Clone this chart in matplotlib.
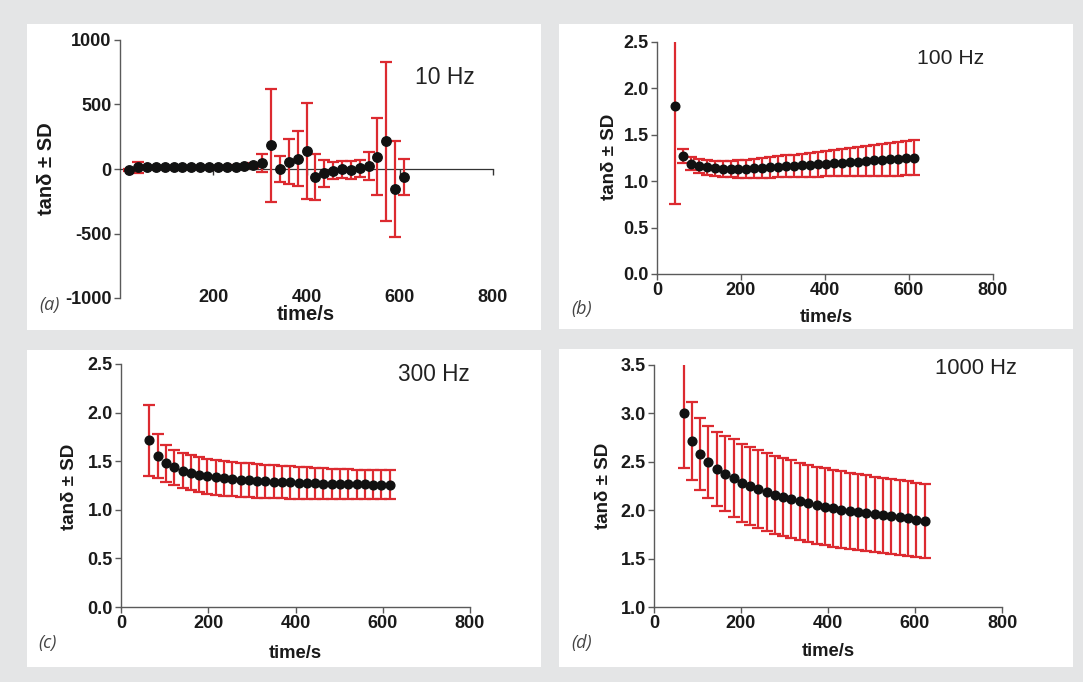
import matplotlib
matplotlib.use("Agg")
import matplotlib.pyplot as plt
from matplotlib.patches import Rectangle

plt.rcParams['font.family'] = ['Liberation Sans', 'DejaVu Sans']
plt.rcParams['axes.unicode_minus'] = False

# tan delta (mean and SD) against time at four frequencies
time_10 = [20, 39, 58, 77, 96, 115, 134, 153, 172, 191, 210, 229, 248, 267, 286, 305,
           324, 343, 362, 381, 400, 419, 438, 457, 476, 495, 514, 533, 552, 571, 590, 609]
tan_10 = [-8, 12, 13, 13, 13, 13, 13, 13, 13, 13, 13, 15, 18, 20, 28, 45,
          186, 0, 57, 78, 140, -63, -34, -13, -3, -5, 5, 24, 96, 215, -155, -62]
sd_10 = [8, 43, 10, 10, 10, 10, 10, 10, 10, 10, 10, 10, 12, 14, 18, 72,
         438, 101, 177, 213, 370, 180, 107, 68, 67, 70, 68, 106, 299, 615, 370, 138]

time_100 = [42, 61, 80, 99, 118, 137, 156, 175, 194, 213, 232, 251, 270, 289, 308, 326,
            345, 364, 383, 402, 421, 440, 459, 478, 497, 516, 535, 554, 573, 592, 611]
tan_100 = [1.81, 1.27, 1.19, 1.165, 1.15, 1.14, 1.135, 1.13, 1.13, 1.133, 1.138, 1.143,
           1.148, 1.154, 1.16, 1.165, 1.17, 1.176, 1.182, 1.188, 1.194, 1.2, 1.206, 1.212,
           1.218, 1.224, 1.23, 1.236, 1.242, 1.248, 1.254]
sd_100 = [1.055, 0.077, 0.07, 0.074, 0.078, 0.082, 0.086, 0.09, 0.094, 0.098, 0.102, 0.106,
          0.11, 0.114, 0.118, 0.122, 0.126, 0.13, 0.134, 0.137, 0.141, 0.146, 0.151, 0.156,
          0.161, 0.166, 0.171, 0.176, 0.181, 0.186, 0.191]

time_300 = [65, 84, 103, 122, 141, 160, 179, 198, 217, 236, 255, 274, 293, 312, 331,
            350, 369, 388, 407, 426, 445, 464, 483, 502, 521, 540, 559, 578, 597, 616]
tan_300 = [1.715, 1.553, 1.481, 1.437, 1.403, 1.38, 1.362, 1.347, 1.335, 1.325, 1.317,
           1.31, 1.304, 1.298, 1.293, 1.289, 1.285, 1.282, 1.279, 1.276, 1.273, 1.27,
           1.268, 1.266, 1.264, 1.262, 1.261, 1.26, 1.259, 1.258]
sd_300 = [0.366, 0.226, 0.19, 0.183, 0.18, 0.18, 0.18, 0.18, 0.18, 0.178, 0.177, 0.176,
          0.175, 0.174, 0.172, 0.17, 0.168, 0.166, 0.164, 0.162, 0.16, 0.158, 0.156,
          0.155, 0.153, 0.152, 0.15, 0.149, 0.148, 0.147]

time_1000 = [68, 87, 106, 125, 144, 164, 183, 202, 221, 240, 259, 278, 297, 316, 335,
             354, 374, 393, 412, 431, 450, 469, 488, 507, 526, 545, 565, 584, 603, 622]
tan_1000 = [3.007, 2.717, 2.579, 2.497, 2.428, 2.376, 2.331, 2.283, 2.252, 2.22, 2.188,
            2.16, 2.135, 2.112, 2.09, 2.07, 2.052, 2.035, 2.02, 2.006, 1.993, 1.98, 1.968,
            1.957, 1.947, 1.937, 1.927, 1.915, 1.9, 1.886]
sd_1000 = [0.576, 0.402, 0.374, 0.372, 0.38, 0.388, 0.4, 0.405, 0.405, 0.405, 0.405,
           0.404, 0.403, 0.402, 0.4, 0.4, 0.398, 0.396, 0.395, 0.394, 0.393, 0.392, 0.391,
           0.39, 0.389, 0.388, 0.387, 0.386, 0.385, 0.384]

W, H = 1083, 682
RED = '#dc2a30'
AXIS = '#5a5a5a'
BG = '#e4e5e6'


def frac(left, top, right, bottom):
    return [left / W, 1 - bottom / H, (right - left) / W, (bottom - top) / H]


def put(x, y, s, **kw):
    fig.text(x / W, 1 - y / H, s, ha='center', va='center', **kw)


fig = plt.figure(figsize=(W / 100, H / 100), dpi=100, facecolor=BG)

# white cards behind each panel
for l, t, r, b in [(27, 24, 541, 330), (559, 24, 1073, 329),
                   (27, 350, 541, 667), (559, 349, 1073, 667)]:
    fig.patches.append(Rectangle((l / W, 1 - b / H), (r - l) / W, (b - t) / H,
                                 transform=fig.transFigure, facecolor='white',
                                 edgecolor='none', zorder=-5))


def style(ax, tick_size):
    ax.set_zorder(2)
    for side in ['top', 'right']:
        ax.spines[side].set_visible(False)
    for side in ['left', 'bottom']:
        ax.spines[side].set_color(AXIS)
        ax.spines[side].set_linewidth(1.0)
    ax.tick_params(colors=AXIS, length=4, width=1.0, pad=2,
                   labelsize=tick_size, labelcolor='#1a1a1a')
    for lab in ax.get_xticklabels() + ax.get_yticklabels():
        lab.set_fontweight('bold')
    ax.set_facecolor('none')


def draw(ax, t, m, s, ms):
    ax.errorbar(t, m, yerr=s, fmt='o', color='#111111', markersize=ms,
                ecolor=RED, elinewidth=1.6, capsize=4.2, capthick=1.6, zorder=3)


# (a) 10 Hz
ax_a = fig.add_axes(frac(120, 40, 493, 298))
draw(ax_a, time_10, tan_10, sd_10, 6.8)
ax_a.set_xlim(0, 800)
ax_a.set_ylim(-1000, 1000)
ax_a.set_yticks([-1000, -500, 0, 500, 1000])
ax_a.set_xticks([200, 400, 600, 800])
ax_a.spines['bottom'].set_position(('data', 0))
style(ax_a, 13)
ax_a.spines['bottom'].set_color('#333333')
ax_a.spines['bottom'].set_linewidth(0.9)
ax_a.tick_params(axis='x', labelbottom=False, length=4, color='#333333')
for v in [200, 400, 600, 800]:
    ax_a.text(v, -1000, str(v), ha='center', va='center', fontsize=13,
              fontweight='bold', color='#1a1a1a')

# (b) 100 Hz
ax_b = fig.add_axes(frac(657, 42, 993, 274))
draw(ax_b, time_100, tan_100, sd_100, 6.2)
ax_b.set_xlim(0, 800)
ax_b.set_ylim(0, 2.5)
ax_b.set_xticks([0, 200, 400, 600, 800])
ax_b.set_yticks([0, 0.5, 1.0, 1.5, 2.0, 2.5])
ax_b.set_yticklabels(['0.0', '0.5', '1.0', '1.5', '2.0', '2.5'])
style(ax_b, 13)

# (c) 300 Hz
ax_c = fig.add_axes(frac(121, 364, 470, 607))
draw(ax_c, time_300, tan_300, sd_300, 6.3)
ax_c.set_xlim(0, 800)
ax_c.set_ylim(0, 2.5)
ax_c.set_xticks([0, 200, 400, 600, 800])
ax_c.set_yticks([0, 0.5, 1.0, 1.5, 2.0, 2.5])
ax_c.set_yticklabels(['0.0', '0.5', '1.0', '1.5', '2.0', '2.5'])
style(ax_c, 13)

# (d) 1000 Hz
ax_d = fig.add_axes(frac(654, 365, 1002, 607))
draw(ax_d, time_1000, tan_1000, sd_1000, 6.3)
ax_d.set_xlim(0, 800)
ax_d.set_ylim(1.0, 3.5)
ax_d.set_xticks([0, 200, 400, 600, 800])
ax_d.set_yticks([1.0, 1.5, 2.0, 2.5, 3.0, 3.5])
ax_d.set_yticklabels(['1.0', '1.5', '2.0', '2.5', '3.0', '3.5'])
style(ax_d, 13)

# frequency, axis and panel labels
for (x, y, s, fs) in [(445, 77, '10 Hz', 16.5), (951, 59, '100 Hz', 15.2),
                      (434, 375, '300 Hz', 16.3), (976, 369, '1000 Hz', 15.8)]:
    put(x, y, s, fontsize=fs, color='#222222')

for (x, y, fs) in [(47, 169, 14.5), (610, 157, 13.5), (70, 487, 13.5), (604, 486, 13.5)]:
    put(x, y, 'tanδ ± SD', fontsize=fs, fontweight='bold', rotation=90, color='#1a1a1a')

for (x, y, fs) in [(306, 314, 14.5), (826, 318, 13.3), (295, 653, 13.3), (828, 651, 13.3)]:
    put(x, y, 'time/s', fontsize=fs, fontweight='bold', color='#1a1a1a')

for (x, y, s) in [(49, 305, '(a)'), (582, 309, '(b)'), (47, 643, '(c)'), (582, 643, '(d)')]:
    put(x, y, s, fontsize=13, style='italic', color='#444444', family='Open Sans')

fig.savefig('out.png', dpi=100, facecolor=BG)
